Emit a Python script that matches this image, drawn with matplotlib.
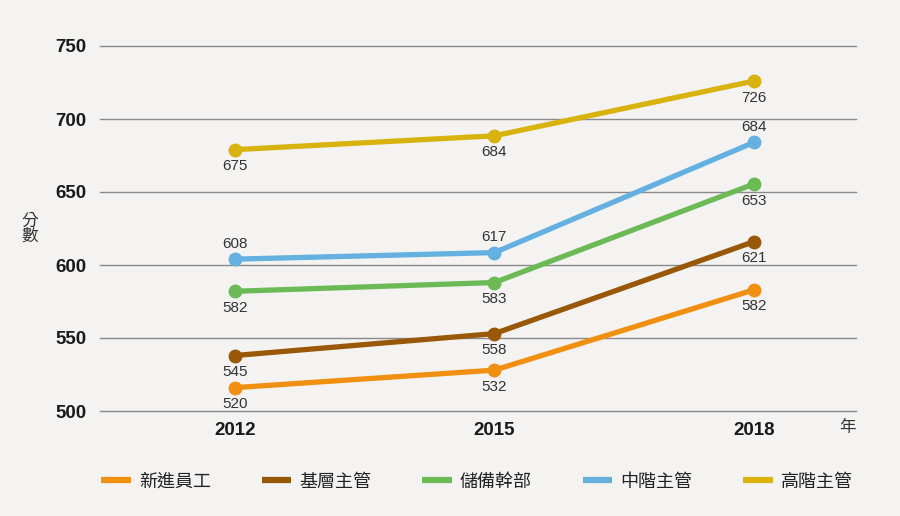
import matplotlib.pyplot as plt

plt.rcParams['font.family'] = ['Liberation Sans', 'Noto Sans CJK TC', 'DejaVu Sans']

years = [2012, 2015, 2018]
series = ['新進員工', '基層主管', '儲備幹部', '中階主管', '高階主管']
colors = ['#f08f10', '#985807', '#6bba56', '#63b0e1', '#d8b20d']

# point positions as drawn in the picture
new_staff = [516, 528, 583]
junior_mgr = [538, 553, 616]
reserve = [582, 588, 655.5]
middle_mgr = [604, 608.5, 684]
senior_mgr = [679, 688.5, 726]

# numbers printed next to the points
new_staff_lbl = [520, 532, 582]
junior_mgr_lbl = [545, 558, 621]
reserve_lbl = [582, 583, 653]
middle_mgr_lbl = [608, 617, 684]
senior_mgr_lbl = [675, 684, 726]

values = [new_staff, junior_mgr, reserve, middle_mgr, senior_mgr]
labels = [new_staff_lbl, junior_mgr_lbl, reserve_lbl, middle_mgr_lbl, senior_mgr_lbl]

bg = '#f4f3f1'
fig = plt.figure(figsize=(9, 5.16), dpi=100, facecolor=bg)
ax = fig.add_axes([100/900, (516-411)/516, 756/900, 365/516])
ax.set_facecolor(bg)

for name, v, lb, c in zip(series, values, labels, colors):
    ax.plot(years, v, color=c, lw=3.8, marker='o', ms=9, label=name,
            solid_capstyle='round', zorder=3)
    above = name == '中階主管'
    for x, y, t in zip(years, v, lb):
        ax.annotate(str(t), (x, y), xytext=(0, 11 if above else -12),
                    textcoords='offset points', ha='center',
                    va='center', fontsize=11, color='#333333')

ax.set_xlim(2010.44, 2019.18)
ax.set_ylim(500, 750)
ax.set_yticks([500, 550, 600, 650, 700, 750])
ax.set_xticks(years)
ax.yaxis.grid(True, color='#8a8a8a', lw=1)
for g in ax.get_ygridlines():
    g.set_clip_on(False)
ax.set_axisbelow(True)
for s in ax.spines.values():
    s.set_visible(False)
ax.tick_params(length=0, labelsize=13.5, labelcolor='#1a1a1a')
ax.tick_params(axis='y', pad=10)
ax.tick_params(axis='x', pad=8)
for t in ax.get_xticklabels() + ax.get_yticklabels():
    t.set_fontweight('bold')

fig.text(30/900, 1 - 229/516, '分\n數', ha='center', va='center',
         fontsize=12, color='#333333', linespacing=1.0)
fig.text(848/900, 1 - 427/516, '年', ha='center', va='center',
         fontsize=12, color='#333333')

fig.legend(loc='center', bbox_to_anchor=(0.53, 1 - 482/516), ncol=5,
           frameon=False, fontsize=13, handlelength=1.65, handletextpad=0.45,
           columnspacing=2.8, markerscale=0, labelcolor='#222222')
leg = fig.legends[0]
for h in leg.get_lines():
    h.set_marker('')
    h.set_linewidth(4.5)
    h.set_solid_capstyle('butt')

fig.savefig('out.png', dpi=100, facecolor=bg)
